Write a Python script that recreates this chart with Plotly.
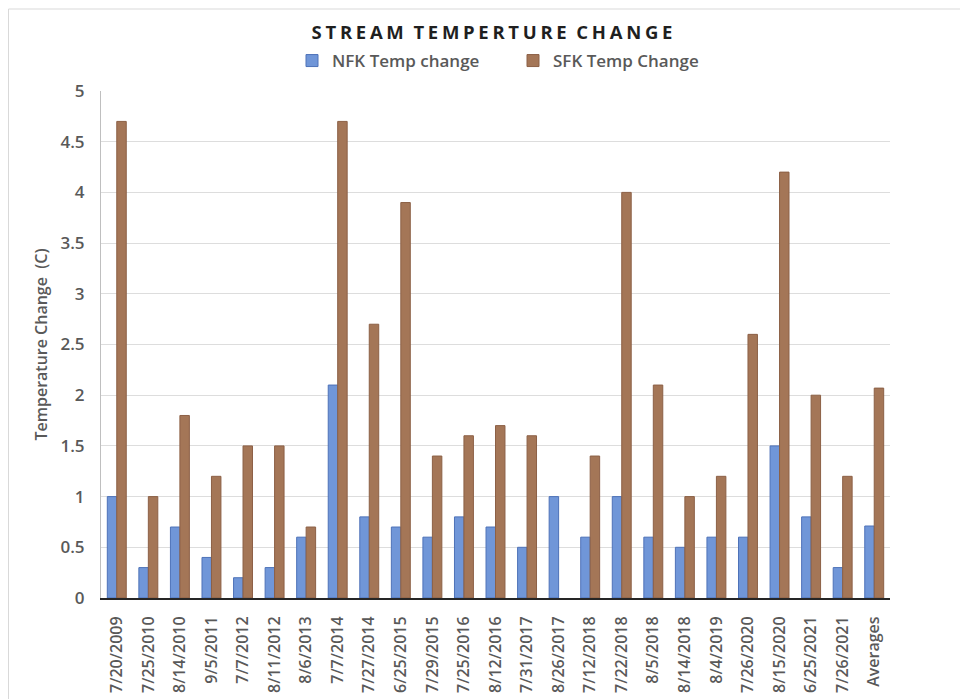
import plotly.graph_objects as go

dates = ["7/20/2009", "7/25/2010", "8/14/2010", "9/5/2011", "7/7/2012", "8/11/2012",
         "8/6/2013", "7/7/2014", "7/27/2014", "6/25/2015", "7/29/2015", "7/25/2016",
         "8/12/2016", "7/31/2017", "8/26/2017", "7/12/2018", "7/22/2018", "8/5/2018",
         "8/14/2018", "8/4/2019", "7/26/2020", "8/15/2020", "6/25/2021", "7/26/2021",
         "Averages"]
nfk = [1.0, 0.3, 0.7, 0.4, 0.2, 0.3, 0.6, 2.1, 0.8, 0.7, 0.6, 0.8, 0.7, 0.5, 1.0,
       0.6, 1.0, 0.6, 0.5, 0.6, 0.6, 1.5, 0.8, 0.3, 0.71]
sfk = [4.7, 1.0, 1.8, 1.2, 1.5, 1.5, 0.7, 4.7, 2.7, 3.9, 1.4, 1.6, 1.7, 1.6, None,
       1.4, 4.0, 2.1, 1.0, 1.2, 2.6, 4.2, 2.0, 1.2, 2.07]
yticks = [0, 0.5, 1, 1.5, 2, 2.5, 3, 3.5, 4, 4.5, 5]
title_text = "STREAM TEMPERTURE CHANGE"

FONT = "Open Sans"
GRAY = "#595959"

fig = go.Figure()
fig.add_trace(go.Bar(x=dates, y=nfk, name="NFK Temp change",
                     marker=dict(color="#7096D8", line=dict(color="#4E72B8", width=1))))
fig.add_trace(go.Bar(x=dates, y=sfk, name="SFK Temp Change",
                     marker=dict(color="#A47657", line=dict(color="#8C6046", width=1))))

W, H = 968, 699
L, R, T, B = 93, 86, 83, 109
pw = W - L - R
ph = H - T - B

# letter-spaced title (hair spaces between letters, wider gaps between words)
spaced = "\u00a0\u00a0".join("\u200a\u200a".join(w) for w in title_text.split(" "))

fig.update_layout(
    width=W, height=H,
    margin=dict(l=L, r=R, t=T, b=B),
    paper_bgcolor="white", plot_bgcolor="white",
    barmode="group", bargap=0.4, bargroupgap=0.0,
    font=dict(family=FONT, color=GRAY),
    title=dict(text="<b>" + spaced + "</b>", x=484 / W, xanchor="center",
               y=1 - 25 / H, yanchor="middle",
               font=dict(family=FONT, size=18.5, color="#1F1F1F")),
    legend=dict(orientation="h", x=(284 - L) / pw, xanchor="left",
                y=(H - B - 53) / ph, yanchor="middle",
                font=dict(family=FONT, size=17, color=GRAY, weight=600),
                entrywidth=176, itemwidth=30, traceorder="normal",
                bgcolor="rgba(0,0,0,0)"),
    showlegend=True,
)
fig.update_xaxes(
    type="category", tickangle=-90,
    tickfont=dict(family=FONT, size=16, color=GRAY, weight=600),
    showline=True, linecolor="#262626", linewidth=2,
    showgrid=False, ticks="", ticklabelstandoff=10, automargin=False,
)
fig.update_yaxes(
    range=[0, 5], tickvals=yticks, ticktext=[f"{v:g}" for v in yticks],
    tickfont=dict(family=FONT, size=17, color=GRAY, weight=600),
    showgrid=True, gridcolor="#DDDDDD", gridwidth=1,
    showline=True, linecolor="#BFBFBF", linewidth=1,
    zeroline=False, ticks="", ticklabelstandoff=12, automargin=False,
    title=dict(text="Temperature Change  (C)",
               font=dict(family=FONT, size=16, color=GRAY, weight=600),
               standoff=8),
)
# outer chart frame
fig.add_shape(type="rect", xref="paper", yref="paper",
              x0=(0.5 - L) / pw, x1=(W + 20 - L) / pw,
              y0=(H - B - (H + 20)) / ph, y1=(H - B - 1) / ph,
              line=dict(color="#D9D9D9", width=1), fillcolor="rgba(0,0,0,0)", layer="below")

fig.write_html("out.html")
